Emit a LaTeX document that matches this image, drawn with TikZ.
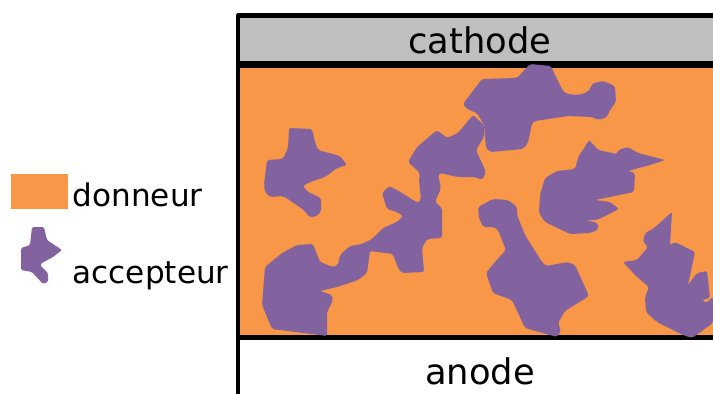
\documentclass[tikz,border=0pt]{standalone}
\usepackage{fontspec}
\setmainfont{DejaVu Sans}
\definecolor{donneur}{HTML}{F89747}
\definecolor{accepteur}{HTML}{8263A0}
\definecolor{grise}{HTML}{BFBFBF}
\tikzset{
  blob/.style={fill=accepteur,rounded corners=2pt},
  bar/.style={draw=black,line width=5pt,line join=round},
  biglabel/.style={anchor=base,inner sep=0pt,font=\fontsize{35.3}{40}\selectfont},
  leglabel/.style={anchor=base west,inner sep=0pt,font=\fontsize{31.1}{36}\selectfont}
}
\begin{document}
\begin{tikzpicture}[x=1pt,y=-1pt]
\useasboundingbox (0,0) rectangle (713,394);
\fill[grise] (238,16) rectangle (713,63);
\fill[donneur] (238,63) rectangle (713,337);
\fill[donneur] (11,174) rectangle (68,209);
\draw[bar,line width=4.2pt] (238,394) -- (238,15.5) -- (713,15.5);
\draw[bar,line width=7pt] (238,64.5) -- (713,64.5);
\draw[bar] (238,337.5) -- (713,337.5);
% shape A
\fill[blob] (289,128) -- (312,129) -- (315,142) -- (318,150) -- (340,156) -- (347,165) -- (337,168) -- (325,177) -- (310,182) -- (303,186) -- (308,192) -- (321,198) -- (321,212) -- (315,217) -- (309,217) -- (305,211) -- (288,199) -- (283,196) -- (270,197) -- (265,192) -- (264,185) -- (267,160) -- (283,159) -- (288,148) -- cycle;
% shape B
\fill[blob] (530,64) -- (551,66) -- (556,77) -- (563,91) -- (567,94) -- (578,95) -- (588,92) -- (593,83) -- (603,81) -- (615,86) -- (616,102) -- (610,110) -- (607,117) -- (599,120) -- (592,117) -- (568,116) -- (535,121) -- (532,123) -- (528,143) -- (523,149) -- (490,152) -- (486,148) -- (484,125) -- (477,113) -- (467,109) -- (463,104) -- (482,79) -- (517,78) -- cycle;
% shape C
\fill[blob] (473,115) -- (484,125) -- (484,137) -- (476,150) -- (486,172) -- (482,180) -- (475,177) -- (458,177) -- (440,173) -- (438,175) -- (441,188) -- (435,202) -- (442,208) -- (442,238) -- (427,239) -- (422,248) -- (424,272) -- (402,273) -- (398,268) -- (393,254) -- (370,251) -- (367,273) -- (358,280) -- (337,287) -- (320,291) -- (332,295) -- (333,300) -- (327,312) -- (327,336) -- (272,329) -- (262,305) -- (265,267) -- (282,253) -- (297,245) -- (313,244) -- (320,262) -- (333,267) -- (338,265) -- (340,255) -- (350,246) -- (362,244) -- (372,239) -- (383,228) -- (397,222) -- (403,216) -- (397,212) -- (387,209) -- (382,193) -- (389,186) -- (397,190) -- (418,203) -- (421,200) -- (419,180) -- (420,173) -- (408,162) -- (417,147) -- (437,130) -- (447,138) -- (458,133) -- cycle;
% shape D
\fill[blob] (589,140) -- (598,150) -- (617,154) -- (618,150) -- (628,147) -- (638,153) -- (665,160) -- (650,165) -- (628,171) -- (635,173) -- (634,192) -- (595,200) -- (610,202) -- (619,209) -- (597,220) -- (585,220) -- (598,223) -- (598,230) -- (590,233) -- (570,234) -- (545,222) -- (539,213) -- (540,195) -- (545,178) -- (557,171) -- (575,169) -- (579,155) -- (583,150) -- cycle;
% shape E
\fill[blob] (478,207) -- (493,199) -- (508,200) -- (517,207) -- (517,215) -- (525,235) -- (542,262) -- (546,266) -- (568,262) -- (575,265) -- (589,296) -- (565,311) -- (558,323) -- (561,331) -- (557,337) -- (525,328) -- (512,300) -- (493,293) -- (486,273) -- (495,262) -- (506,250) -- (498,230) -- (494,227) -- (483,227) -- (479,218) -- cycle;
% shape F
\fill[blob] (672,212) -- (670,245) -- (675,242) -- (695,252) -- (688,285) -- (697,273) -- (707,271) -- (710,298) -- (702,300) -- (706,303) -- (713,297) -- (713,323) -- (692,338) -- (683,335) -- (657,322) -- (646,312) -- (645,297) -- (649,287) -- (637,277) -- (623,262) -- (637,260) -- (648,247) -- (643,242) -- (645,233) -- (653,229) -- cycle;
% legend shape
\fill[blob,rounded corners=1.5pt] (32,227) -- (44,227) -- (47,240) -- (50,242) -- (62,250) -- (53,257) -- (42,263) -- (40,265) -- (48,273) -- (48,282) -- (43,284) -- (32,272) -- (21,270) -- (21,248) -- (30,245) -- cycle;
\node[biglabel] (cathode) at (480,53) {cathode};
\node[biglabel] (anode) at (480,384) {anode};
\node[leglabel] (don) at (72.5,206) {donneur};
\node[leglabel] (acc) at (72.5,283) {accepteur};
\end{tikzpicture}
\end{document}
